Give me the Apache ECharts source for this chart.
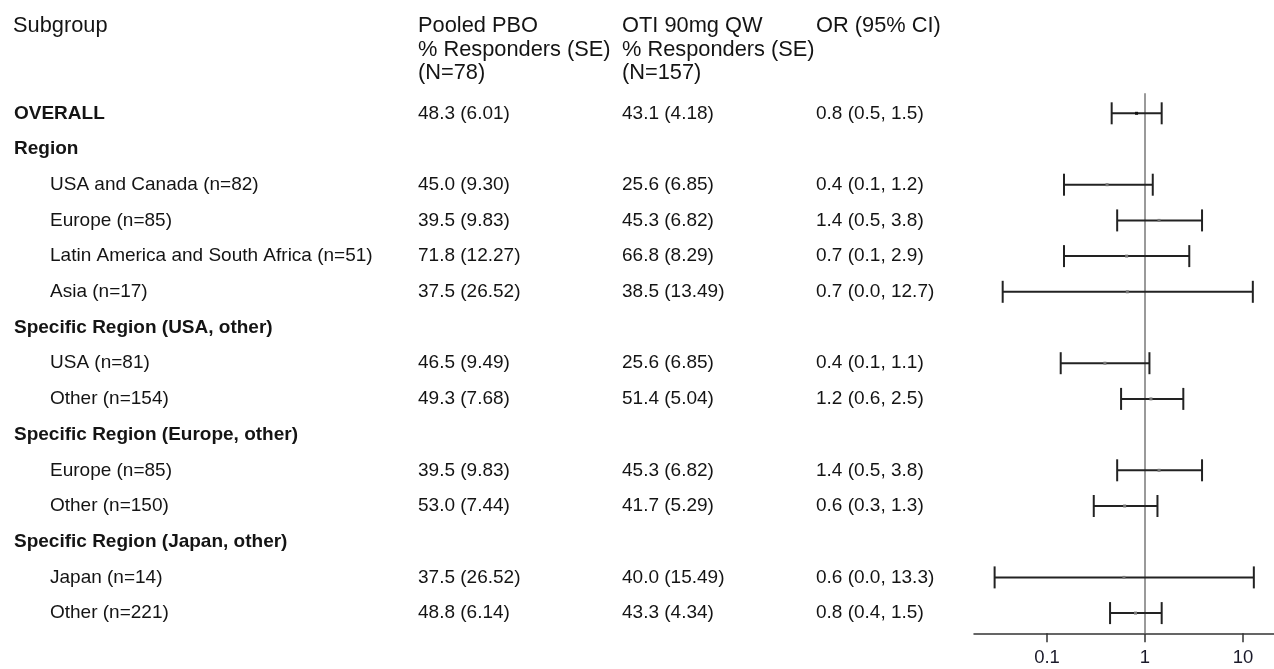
<!DOCTYPE html>
<html>
<head>
<meta charset="utf-8">
<script src="https://cdn.jsdelivr.net/npm/echarts@6/dist/echarts.min.js"></script>
<style>
html,body{margin:0;padding:0;background:#fff;}
#chart{width:1274px;height:669px;}
</style>
</head>
<body>
<div id="chart"></div>
<script>
// ---------- data ----------
const headerSubgroup = ["Subgroup"];
const headerPBO = ["Pooled PBO", "% Responders (SE)", "(N=78)"];
const headerOTI = ["OTI 90mg QW", "% Responders (SE)", "(N=157)"];
const headerOR = ["OR (95% CI)"];

const subgroups = [
  "OVERALL", "Region", "USA and Canada (n=82)", "Europe (n=85)",
  "Latin America and South Africa (n=51)", "Asia (n=17)",
  "Specific Region (USA, other)", "USA (n=81)", "Other (n=154)",
  "Specific Region (Europe, other)", "Europe (n=85)", "Other (n=150)",
  "Specific Region (Japan, other)", "Japan (n=14)", "Other (n=221)"
];
const isHeading = [true, true, false, false, false, false, true, false, false, true, false, false, true, false, false];
const pboText = ["48.3 (6.01)", "", "45.0 (9.30)", "39.5 (9.83)", "71.8 (12.27)", "37.5 (26.52)", "", "46.5 (9.49)", "49.3 (7.68)", "", "39.5 (9.83)", "53.0 (7.44)", "", "37.5 (26.52)", "48.8 (6.14)"];
const otiText = ["43.1 (4.18)", "", "25.6 (6.85)", "45.3 (6.82)", "66.8 (8.29)", "38.5 (13.49)", "", "25.6 (6.85)", "51.4 (5.04)", "", "45.3 (6.82)", "41.7 (5.29)", "", "40.0 (15.49)", "43.3 (4.34)"];
const orText = ["0.8 (0.5, 1.5)", "", "0.4 (0.1, 1.2)", "1.4 (0.5, 3.8)", "0.7 (0.1, 2.9)", "0.7 (0.0, 12.7)", "", "0.4 (0.1, 1.1)", "1.2 (0.6, 2.5)", "", "1.4 (0.5, 3.8)", "0.6 (0.3, 1.3)", "", "0.6 (0.0, 13.3)", "0.8 (0.4, 1.5)"];

// plotted odds ratios (point, lower, upper); null for heading rows
const orPoint = [0.82, null, 0.41, 1.39, 0.65, 0.66, null, 0.39, 1.15, null, 1.39, 0.62, null, 0.61, 0.80];
const orLower = [0.457, null, 0.149, 0.52, 0.149, 0.0353, null, 0.138, 0.57, null, 0.52, 0.30, null, 0.0292, 0.44];
const orUpper = [1.48, null, 1.20, 3.82, 2.83, 12.6, null, 1.11, 2.46, null, 3.82, 1.34, null, 12.9, 1.48];

const xTicks = [0.1, 1, 10];

// ---------- layout ----------
const ROW_MIN = -3.174, ROW_MAX = 14.566;
const REF_TOP = -0.56;
const colX = {sub: 13, subIndent: 50, pbo: 418, oti: 622, or: 816};
const headerRows = [-2.44, -1.785, -1.13];
const FONT = '"Liberation Sans", Arial, sans-serif';
const BODY = 19, HEAD = 21.8;

const items = [];
headerSubgroup.forEach((t, i) => items.push({x: colX.sub, row: headerRows[i], text: t, bold: false, size: HEAD}));
headerPBO.forEach((t, i) => items.push({x: colX.pbo, row: headerRows[i], text: t, bold: false, size: HEAD}));
headerOTI.forEach((t, i) => items.push({x: colX.oti, row: headerRows[i], text: t, bold: false, size: HEAD}));
headerOR.forEach((t, i) => items.push({x: colX.or, row: headerRows[i], text: t, bold: false, size: HEAD}));
subgroups.forEach((t, i) => {
  items.push({x: isHeading[i] ? colX.sub + 1 : colX.subIndent, row: i, text: t, bold: isHeading[i], size: BODY});
  if (pboText[i]) items.push({x: colX.pbo, row: i, text: pboText[i], bold: false, size: BODY});
  if (otiText[i]) items.push({x: colX.oti, row: i, text: otiText[i], bold: false, size: BODY});
  if (orText[i]) items.push({x: colX.or, row: i, text: orText[i], bold: false, size: BODY});
});

const forest = [];
orPoint.forEach((p, i) => { if (p != null) forest.push([p, i, orLower[i], orUpper[i]]); });

const chart = echarts.init(document.getElementById('chart'), null, {renderer: 'canvas'});
const option = {
  animation: false,
  backgroundColor: '#fff',
  grid: [
    {left: 974, right: 0, top: 0, bottom: 35.7, containLabel: false},
    {left: 0, width: 974, top: 0, bottom: 35.7, containLabel: false}
  ],
  xAxis: [
    {
      type: 'log', logBase: 10, gridIndex: 0, position: 'bottom',
      min: 0.01799, max: 20.72,
      axisLine: {show: true, onZero: false, lineStyle: {color: '#333', width: 1.5}},
      axisTick: {show: true, length: 9, lineStyle: {color: '#333', width: 1.5}, customValues: xTicks},
      axisLabel: {show: true, margin: 15, fontSize: 18.5, color: '#1a1a2a', fontFamily: FONT, customValues: xTicks,
        formatter: v => String(+(+v).toPrecision(6))},
      splitLine: {show: false},
      minorTick: {show: false}
    },
    {type: 'value', gridIndex: 1, min: 0, max: 974, show: false}
  ],
  yAxis: [
    {type: 'value', gridIndex: 0, inverse: true, min: ROW_MIN, max: ROW_MAX, show: false},
    {type: 'value', gridIndex: 1, inverse: true, min: ROW_MIN, max: ROW_MAX, show: false}
  ],
  series: [
    {
      type: 'line', xAxisIndex: 0, yAxisIndex: 0, symbol: 'none', silent: true,
      lineStyle: {color: '#9a9a9a', width: 2},
      data: [[1, REF_TOP], [1, ROW_MAX]], z: 1
    },
    {
      type: 'custom', xAxisIndex: 0, yAxisIndex: 0, z: 3,
      data: forest,
      renderItem: function (params, api) {
        const p = api.coord([api.value(0), api.value(1)]);
        const lo = api.coord([api.value(2), api.value(1)]);
        const hi = api.coord([api.value(3), api.value(1)]);
        const cap = 11;
        const ls = {stroke: '#222', lineWidth: 2};
        const dark = params.dataIndex === 0;
        return {
          type: 'group',
          children: [
            {type: 'line', shape: {x1: lo[0], y1: lo[1], x2: hi[0], y2: hi[1]}, style: ls},
            {type: 'line', shape: {x1: lo[0], y1: lo[1] - cap, x2: lo[0], y2: lo[1] + cap}, style: ls},
            {type: 'line', shape: {x1: hi[0], y1: hi[1] - cap, x2: hi[0], y2: hi[1] + cap}, style: ls},
            {type: 'rect', shape: {x: p[0] - 1.5, y: p[1] - 1.5, width: 3, height: 3}, style: {fill: dark ? '#111' : '#777'}}
          ]
        };
      }
    },
    {
      type: 'custom', xAxisIndex: 1, yAxisIndex: 1, z: 5, clip: false,
      data: items.map(d => [d.x, d.row]),
      renderItem: function (params, api) {
        const d = items[params.dataIndex];
        const c = api.coord([api.value(0), api.value(1)]);
        return {
          type: 'text',
          x: c[0], y: c[1],
          style: {
            text: d.text,
            fill: '#141414',
            font: (d.bold ? 'bold ' : '') + d.size + 'px ' + FONT,
            align: 'left', verticalAlign: 'middle',
            textAlign: 'left', textVerticalAlign: 'middle'
          }
        };
      }
    }
  ]
};
chart.setOption(option);
</script>
</body>
</html>
